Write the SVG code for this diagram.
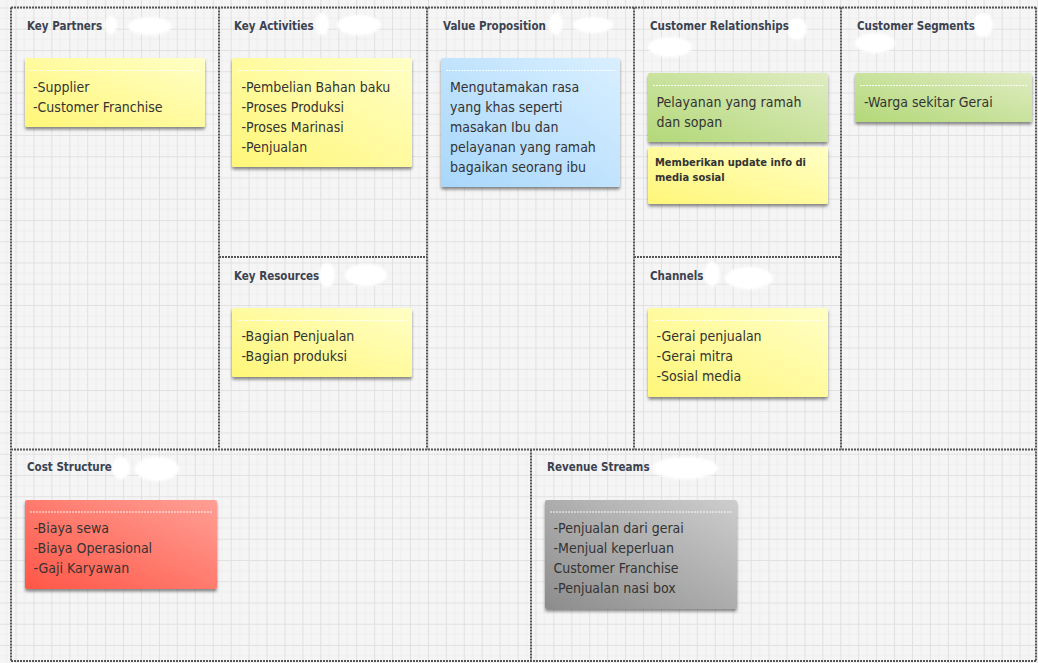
<svg xmlns="http://www.w3.org/2000/svg" width="1038" height="663" viewBox="0 0 1038 663">
<defs>
<style>
.hdr{font-family:"DejaVu Sans Condensed","DejaVu Sans",sans-serif;font-stretch:condensed;font-weight:bold;font-size:11.5px;fill:#3b4250}
.txt{font-family:"DejaVu Sans Condensed","DejaVu Sans",sans-serif;font-stretch:condensed;font-size:14px;fill:#333}
.btxt{font-family:"DejaVu Sans Condensed","DejaVu Sans",sans-serif;font-stretch:condensed;font-weight:bold;font-size:11px;fill:#333}
.div{stroke:#555;stroke-width:2;stroke-dasharray:2 1;fill:none}
.sep{stroke:#fff;stroke-width:1;stroke-dasharray:2 1;opacity:0.9}
.note{filter:url(#sh)}
.blob{fill:#fff}
</style>
<pattern id="grid" patternUnits="userSpaceOnUse" x="15.5" y="7.5" width="17.93" height="21.25">
<rect width="17.93" height="21.25" fill="#f5f5f5"/>
<path d="M0 10.6H17.93M8.96 0V21.25" stroke="#eeeeee" stroke-width="1"/>
<path d="M0 0.5H17.93M0.5 0V21.25" stroke="#e1e1e1" stroke-width="1"/>
</pattern>
<filter id="sh" x="-10%" y="-10%" width="120%" height="140%">
<feDropShadow dx="0" dy="2.5" stdDeviation="1.8" flood-color="#000" flood-opacity="0.45"/>
</filter>
<filter id="soft" x="-20%" y="-20%" width="140%" height="140%"><feGaussianBlur stdDeviation="1"/></filter>
<linearGradient id="gY" x1="0" y1="1" x2="1" y2="0"><stop offset="0" stop-color="#fff678"/><stop offset="1" stop-color="#ffffc6"/></linearGradient>
<linearGradient id="gB" x1="0" y1="1" x2="1" y2="0"><stop offset="0" stop-color="#a8d7fb"/><stop offset="1" stop-color="#d9efff"/></linearGradient>
<linearGradient id="gG" x1="0" y1="1" x2="1" y2="0"><stop offset="0" stop-color="#b3d878"/><stop offset="1" stop-color="#dfecc2"/></linearGradient>
<linearGradient id="gR" x1="0" y1="1" x2="1" y2="0"><stop offset="0" stop-color="#ff5646"/><stop offset="1" stop-color="#ff9f95"/></linearGradient>
<linearGradient id="gK" x1="0" y1="1" x2="1" y2="0"><stop offset="0" stop-color="#8c8c8c"/><stop offset="1" stop-color="#cdcdcd"/></linearGradient>
</defs>

<rect width="1038" height="663" fill="url(#grid)"/>

<g id="connectors">
<path class="div" d="M11 7.5H1036M11 7.5V661M1036 7.5V661M11 661H1036M11 449.5H1036M219 7.5V449.5M427 7.5V449.5M634 7.5V449.5M841 7.5V449.5M219 257H427M634 257H841M531 449.5V661"/>
</g>

<g id="redactions" filter="url(#soft)">
<ellipse class="blob" cx="111" cy="25" rx="6" ry="9"/><ellipse class="blob" cx="150" cy="26" rx="22" ry="9"/>
<ellipse class="blob" cx="322" cy="24" rx="7" ry="11"/><ellipse class="blob" cx="359" cy="25" rx="22" ry="10"/>
<ellipse class="blob" cx="556" cy="24" rx="7" ry="11"/><ellipse class="blob" cx="593" cy="25" rx="20" ry="8"/>
<ellipse class="blob" cx="797" cy="29" rx="10" ry="11"/><ellipse class="blob" cx="670" cy="47" rx="22" ry="10"/>
<ellipse class="blob" cx="983" cy="25" rx="10" ry="12"/><ellipse class="blob" cx="875" cy="43" rx="20" ry="10"/>
<ellipse class="blob" cx="327" cy="275" rx="8" ry="12"/><ellipse class="blob" cx="366" cy="275" rx="21" ry="11"/>
<ellipse class="blob" cx="712" cy="274" rx="8" ry="12"/><ellipse class="blob" cx="749" cy="278" rx="24" ry="11"/>
<ellipse class="blob" cx="121" cy="468" rx="9" ry="11"/><ellipse class="blob" cx="157" cy="469" rx="22" ry="12"/>
<ellipse class="blob" cx="685" cy="468" rx="33" ry="11"/>
</g>

<g id="key-partners">
<text class="hdr" x="27" y="29.5">Key Partners</text>
<rect class="note" x="25" y="58" width="180" height="69" rx="2" fill="url(#gY)"/>
<line class="sep" x1="30" y1="70.5" x2="200" y2="70.5"/>
<text class="txt" x="33" y="92">-Supplier</text>
<text class="txt" x="33" y="112">-Customer Franchise</text>
</g>

<g id="key-activities">
<text class="hdr" x="234" y="29.5">Key Activities</text>
<rect class="note" x="232" y="58" width="180" height="109" rx="2" fill="url(#gY)"/>
<line class="sep" x1="237" y1="70.5" x2="407" y2="70.5"/>
<text class="txt" x="241.5" y="92">-Pembelian Bahan baku</text>
<text class="txt" x="241.5" y="112">-Proses Produksi</text>
<text class="txt" x="241.5" y="132">-Proses Marinasi</text>
<text class="txt" x="241.5" y="152">-Penjualan</text>
</g>

<g id="key-resources">
<text class="hdr" x="234" y="279.5">Key Resources</text>
<rect class="note" x="232" y="308" width="180" height="69" rx="2" fill="url(#gY)"/>
<line class="sep" x1="237" y1="320.5" x2="407" y2="320.5"/>
<text class="txt" x="241.5" y="341">-Bagian Penjualan</text>
<text class="txt" x="241.5" y="361">-Bagian produksi</text>
</g>

<g id="value-proposition">
<text class="hdr" x="443" y="29.5">Value Proposition</text>
<rect class="note" x="441" y="58" width="179" height="129" rx="2" fill="url(#gB)"/>
<line class="sep" x1="446" y1="70.5" x2="615" y2="70.5"/>
<text class="txt" x="450" y="92">Mengutamakan rasa</text>
<text class="txt" x="450" y="112">yang khas seperti</text>
<text class="txt" x="450" y="132">masakan Ibu dan</text>
<text class="txt" x="450" y="152">pelayanan yang ramah</text>
<text class="txt" x="450" y="172">bagaikan seorang ibu</text>
</g>

<g id="customer-relationships">
<text class="hdr" x="650" y="29.5">Customer Relationships</text>
<rect class="note" x="648" y="73" width="180" height="69" rx="2" fill="url(#gG)"/>
<line class="sep" x1="653" y1="85.5" x2="823" y2="85.5"/>
<text class="txt" x="656.5" y="107">Pelayanan yang ramah</text>
<text class="txt" x="656.5" y="127">dan sopan</text>
<rect class="note" x="648" y="147" width="180" height="57" rx="2" fill="url(#gY)"/>
<text class="btxt" x="655" y="166">Memberikan update info di</text>
<text class="btxt" x="655" y="180.5">media sosial</text>
</g>

<g id="channels">
<text class="hdr" x="650" y="279.5">Channels</text>
<rect class="note" x="648" y="308" width="180" height="89" rx="2" fill="url(#gY)"/>
<line class="sep" x1="653" y1="320.5" x2="823" y2="320.5"/>
<text class="txt" x="656.5" y="341">-Gerai penjualan</text>
<text class="txt" x="656.5" y="361">-Gerai mitra</text>
<text class="txt" x="656.5" y="381">-Sosial media</text>
</g>

<g id="customer-segments">
<text class="hdr" x="857" y="29.5">Customer Segments</text>
<rect class="note" x="855" y="73" width="177" height="49" rx="2" fill="url(#gG)"/>
<line class="sep" x1="860" y1="85.5" x2="1027" y2="85.5"/>
<text class="txt" x="864" y="106.5">-Warga sekitar Gerai</text>
</g>

<g id="cost-structure">
<text class="hdr" x="27" y="471">Cost Structure</text>
<rect class="note" x="25" y="500" width="192" height="89" rx="2" fill="url(#gR)"/>
<line class="sep" x1="30" y1="512" x2="212" y2="512"/>
<text class="txt" x="33.5" y="532.5">-Biaya sewa</text>
<text class="txt" x="33.5" y="552.5">-Biaya Operasional</text>
<text class="txt" x="33.5" y="572.5">-Gaji Karyawan</text>
</g>

<g id="revenue-streams">
<text class="hdr" x="547" y="471">Revenue Streams</text>
<rect class="note" x="545" y="500" width="192" height="109" rx="2" fill="url(#gK)"/>
<line class="sep" x1="550" y1="512" x2="732" y2="512"/>
<text class="txt" x="553.5" y="532.5">-Penjualan dari gerai</text>
<text class="txt" x="553.5" y="552.5">-Menjual keperluan</text>
<text class="txt" x="553.5" y="572.5">Customer Franchise</text>
<text class="txt" x="553.5" y="592.5">-Penjualan nasi box</text>
</g>
</svg>
